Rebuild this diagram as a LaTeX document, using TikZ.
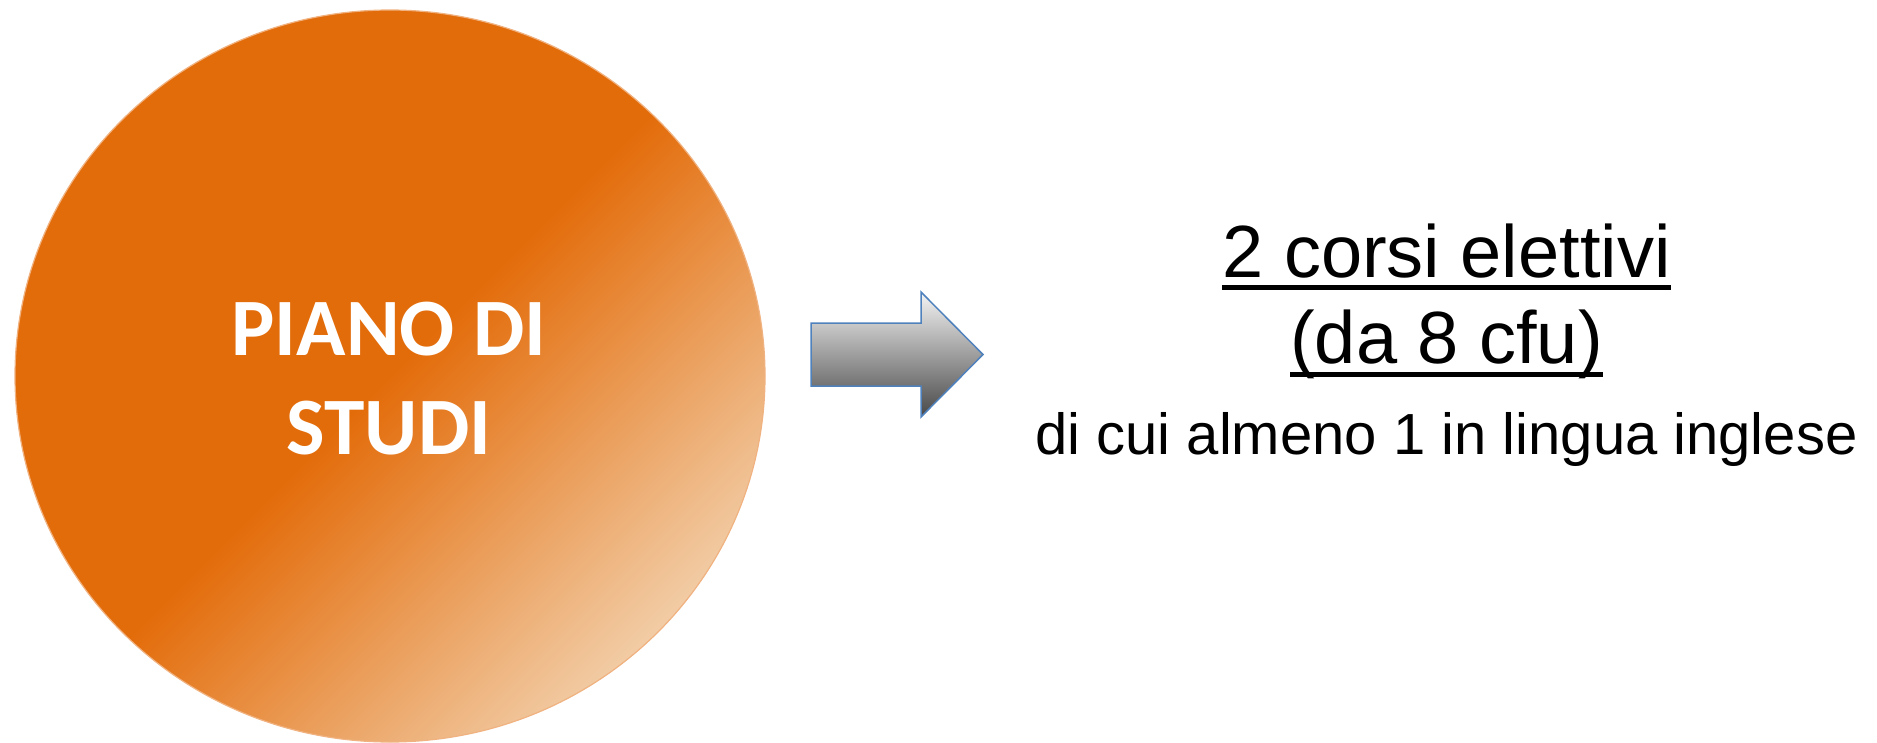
\documentclass[tikz,border=0pt]{standalone}
\usepackage{fontspec}
\setmainfont{Liberation Sans}
\newfontfamily\carlito{Carlito}
\definecolor{circO}{RGB}{227,108,10}
\definecolor{circL}{RGB}{243,212,178}
\definecolor{circEdge}{RGB}{240,178,128}
\definecolor{arrBlue}{RGB}{79,129,189}
\definecolor{arrTop}{RGB}{244,244,244}
\definecolor{arrBot}{RGB}{72,72,72}
\begin{document}
\begin{tikzpicture}[x=1pt,y=-1pt,
  pianotext/.style={text=white, font=\carlito\bfseries\fontsize{81.5}{95}\selectfont, inner sep=0pt, anchor=base},
  bigtext/.style={font=\fontsize{74}{85}\selectfont, inner sep=0pt, anchor=base},
  smalltext/.style={font=\fontsize{58}{66}\selectfont, inner sep=0pt, anchor=base},
  ul/.style={line width=5pt},
  arrowshape/.style={top color=arrTop, bottom color=arrBot, draw=arrBlue, line width=1.5pt, line join=miter}
]
\useasboundingbox (0,0) rectangle (1877,742);
\coordinate (c) at (390,376);
\begin{scope}
  \clip (c) ellipse [x radius=375, y radius=366];
  \begin{scope}[transform canvas={rotate around={-45:(c)}}]
    \shade[left color=circO, right color=circL, middle color=circO] (-10,-24) rectangle (790,776);
  \end{scope}
\end{scope}
\draw[circEdge, line width=1.2pt] (c) ellipse [x radius=375, y radius=366];

\shadedraw[arrowshape]
  (811,323) -- (921,323) -- (921,292) -- (983,354.5) -- (921,417) -- (921,386) -- (811,386) -- cycle;

\node[pianotext] (piano1) at (389,355) {PIANO DI};
\node[pianotext] (piano2) at (389,454) {STUDI};

\node[bigtext] (l1) at (1446.5,277) {2 corsi elettivi};
\node[bigtext] (l2) at (1446.5,363) {(da 8 cfu)};
\node[smalltext] (l3) at (1446.5,454) {di cui almeno 1 in lingua inglese};
\draw[ul] ([yshift=-10.5pt]l1.base west) -- ([yshift=-10.5pt]l1.base east);
\draw[ul] ([yshift=-11pt]l2.base west) -- ([yshift=-11pt]l2.base east);
\end{tikzpicture}
\end{document}
